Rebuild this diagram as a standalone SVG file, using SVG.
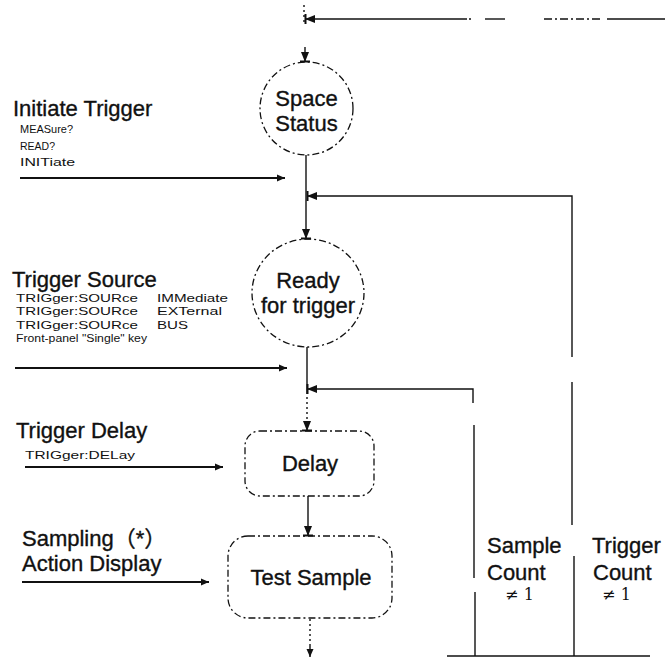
<svg xmlns="http://www.w3.org/2000/svg" width="665" height="658" viewBox="0 0 665 658">
<defs>
<marker id="barArrow" markerUnits="userSpaceOnUse" viewBox="-12 -6 14 12" refX="0" refY="0" markerWidth="14" markerHeight="12" orient="auto">
<path d="M0,0 L-10,-4 L-10,4 Z" fill="#111"/>
<rect x="-1.5" y="-5" width="2" height="10" fill="#111"/>
</marker>
<marker id="arrow" markerUnits="userSpaceOnUse" viewBox="-9 -4 10 8" refX="0" refY="0" markerWidth="10" markerHeight="8" orient="auto">
<path d="M0,0 L-8,-3.5 L-8,3.5 Z" fill="#111"/>
</marker>
</defs>
<style>
.node{fill:none;stroke:#111;stroke-width:1.3;stroke-dasharray:7 3 2 3}
.conn{fill:none;stroke:#111;stroke-width:1.4}
.dot{fill:none;stroke:#111;stroke-width:1.4;stroke-dasharray:2 3}
.inp{fill:none;stroke:#111;stroke-width:2.2}
.big{font-family:"Liberation Sans",Arial,sans-serif;font-size:22px;fill:#111;stroke:#111;stroke-width:0.35}
.mid{font-family:"Liberation Sans",Arial,sans-serif;font-size:22px;fill:#111;stroke:#111;stroke-width:0.35;text-anchor:middle}
.sm{font-family:"Liberation Sans",Arial,sans-serif;font-size:11.5px;fill:#111}
.ne{font-family:"DejaVu Serif","Liberation Serif",serif;font-size:16px;fill:#111}
</style>
<rect width="665" height="658" fill="#fff"/>

<g id="connectors">
<line class="conn" x1="665" y1="19" x2="607" y2="19"/>
<line class="conn" x1="600" y1="19" x2="542" y2="19" stroke-dasharray="8 3 2 3"/>
<line class="conn" x1="505" y1="19" x2="485" y2="19"/>
<line class="conn" x1="471" y1="19" x2="469" y2="19"/>
<line class="conn" x1="467" y1="19" x2="305" y2="19" marker-end="url(#barArrow)"/>
<line class="dot" x1="304" y1="5" x2="304" y2="23"/>
<line class="conn" x1="305" y1="47" x2="305" y2="62" marker-end="url(#barArrow)"/>
<line class="conn" x1="306" y1="155" x2="306" y2="239" marker-end="url(#barArrow)"/>
<polyline class="conn" points="572,357 572,196 307,196" marker-end="url(#barArrow)"/>
<line class="conn" x1="572" y1="382" x2="572" y2="525"/>
<line class="conn" x1="574" y1="556" x2="574" y2="656"/>
<line class="conn" x1="307" y1="347" x2="307" y2="392"/>
<line class="dot" x1="307" y1="392" x2="307" y2="421"/>
<line class="conn" x1="307" y1="421" x2="307" y2="431" marker-end="url(#barArrow)"/>
<polyline class="conn" points="473,403 473,389 307,389" marker-end="url(#barArrow)"/>
<line class="conn" x1="474" y1="425" x2="474" y2="578"/>
<line class="conn" x1="475" y1="592" x2="475" y2="656"/>
<line class="conn" x1="308" y1="496" x2="308" y2="536" marker-end="url(#barArrow)"/>
<line class="dot" x1="310" y1="619" x2="310" y2="646"/>
<line class="conn" x1="310" y1="646" x2="310" y2="657" marker-end="url(#arrow)"/>
<line class="conn" x1="447" y1="656" x2="650" y2="656"/>
<line class="inp" x1="20" y1="178" x2="285" y2="178" marker-end="url(#arrow)"/>
<line class="inp" x1="15" y1="368" x2="287" y2="368" marker-end="url(#arrow)"/>
<line class="inp" x1="25" y1="467" x2="223" y2="467" marker-end="url(#arrow)"/>
<line class="inp" x1="22" y1="582" x2="209" y2="582" marker-end="url(#arrow)"/>
</g>

<g id="space-status">
<ellipse class="node" cx="306.5" cy="108.5" rx="46.5" ry="46.5"/>
<text class="mid" x="306.5" y="106">Space</text>
<text class="mid" x="306.5" y="131">Status</text>
</g>

<g id="ready">
<ellipse class="node" cx="308" cy="293" rx="56" ry="54"/>
<text class="mid" x="308" y="288">Ready</text>
<text class="mid" x="308" y="313">for trigger</text>
</g>

<g id="delay">
<rect class="node" x="245" y="431" width="129" height="65" rx="15"/>
<text class="mid" x="310" y="471">Delay</text>
</g>

<g id="test-sample">
<rect class="node" x="228" y="536" width="164" height="82" rx="20"/>
<text class="mid" x="311" y="585">Test Sample</text>
</g>

<g id="initiate-trigger">
<text class="big" x="13" y="116">Initiate Trigger</text>
<text class="sm" x="20" y="133" textLength="53" lengthAdjust="spacingAndGlyphs">MEASure?</text>
<text class="sm" x="20" y="150" textLength="35" lengthAdjust="spacingAndGlyphs">READ?</text>
<text class="sm" x="20" y="166" textLength="55" lengthAdjust="spacingAndGlyphs">INITiate</text>
</g>

<g id="trigger-source">
<text class="big" x="12" y="287">Trigger Source</text>
<text class="sm" x="16" y="302" textLength="122" lengthAdjust="spacingAndGlyphs">TRIGger:SOURce</text>
<text class="sm" x="157" y="302" textLength="71" lengthAdjust="spacingAndGlyphs">IMMediate</text>
<text class="sm" x="16" y="315" textLength="122" lengthAdjust="spacingAndGlyphs">TRIGger:SOURce</text>
<text class="sm" x="157" y="315" textLength="65" lengthAdjust="spacingAndGlyphs">EXTernal</text>
<text class="sm" x="16" y="329" textLength="122" lengthAdjust="spacingAndGlyphs">TRIGger:SOURce</text>
<text class="sm" x="157" y="329" textLength="31" lengthAdjust="spacingAndGlyphs">BUS</text>
<text class="sm" x="16" y="342" textLength="131" lengthAdjust="spacingAndGlyphs">Front-panel "Single" key</text>
</g>

<g id="trigger-delay">
<text class="big" x="16" y="438">Trigger Delay</text>
<text class="sm" x="25" y="459" textLength="110" lengthAdjust="spacingAndGlyphs">TRIGger:DELay</text>
</g>

<g id="sampling">
<text class="big" x="22" y="546" style="font-family:'Liberation Sans','Noto Sans CJK SC',sans-serif">Sampling（*）</text>
<text class="big" x="22" y="571">Action Display</text>
</g>

<g id="sample-count">
<text class="big" x="487" y="553">Sample</text>
<text class="big" x="487" y="580">Count</text>
<text class="ne" x="505" y="600" textLength="29">≠1</text>
</g>

<g id="trigger-count">
<text class="big" x="592" y="553">Trigger</text>
<text class="big" x="593" y="580">Count</text>
<text class="ne" x="602" y="600" textLength="29">≠1</text>
</g>
</svg>
